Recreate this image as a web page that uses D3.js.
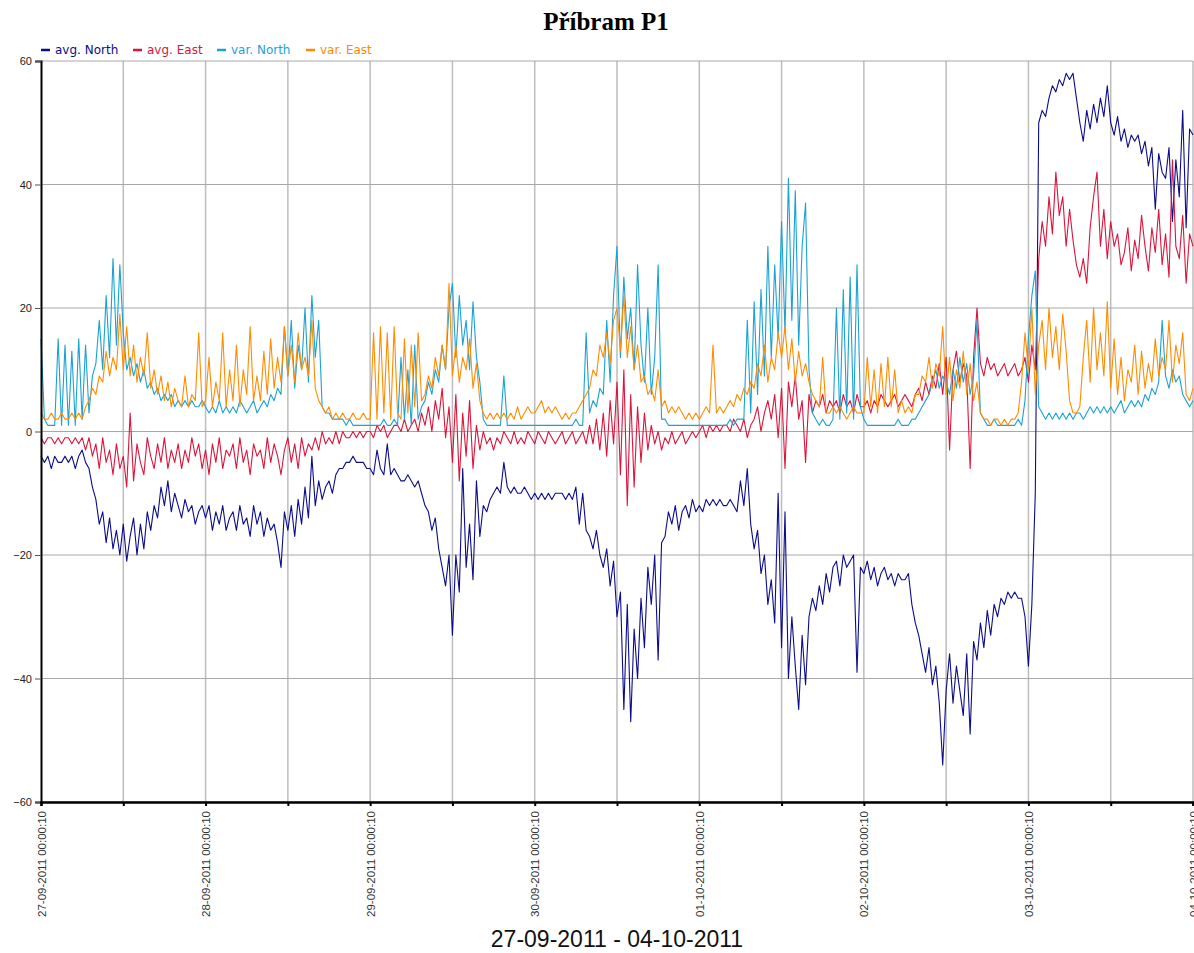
<!DOCTYPE html>
<html>
<head>
<meta charset="utf-8">
<script src="https://cdn.jsdelivr.net/npm/d3@7"></script>
<style>
  body { margin: 0; background: #fff; }
  svg { display: block; }
</style>
</head>
<body>
<div id="chart"></div>
<script>
// half-hourly readings from 27-09-2011 00:00:10 to 04-10-2011 00:00:10
// each row = 4 hours (8 readings), 6 rows per day, last value = end point
const avgNorth = [
  -4,-5,-4,-6,-4,-5,-5,-4,  -5,-4,-6,-4,-3,-5,-6,-9,  -11,-15,-13,-18,-14,-19,-16,-20,
  -15,-21,-17,-14,-20,-15,-19,-13,  -16,-12,-14,-9,-12,-8,-13,-10,  -12,-14,-11,-13,-12,-15,-13,-12,
  -14,-12,-16,-13,-15,-12,-16,-14,  -13,-16,-12,-15,-14,-17,-12,-15,  -13,-17,-14,-16,-15,-18,-22,-13,
  -16,-12,-17,-11,-15,-9,-14,-4,  -12,-8,-11,-9,-8,-10,-7,-6,  -6,-5,-5,-4,-5,-5,-5,-6,
  -6,-7,-3,-6,-7,-2,-7,-6,  -7,-8,-8,-7,-8,-9,-8,-10,  -12,-13,-16,-14,-19,-22,-25,-20,
  -33,-20,-26,-6,-22,-15,-24,-8,  -17,-12,-13,-11,-10,-9,-10,-5,  -9,-10,-9,-10,-10,-9,-10,-11,
  -10,-11,-10,-11,-10,-11,-10,-10,  -10,-11,-10,-11,-9,-15,-10,-16,  -17,-19,-16,-20,-22,-19,-25,-21,
  -30,-26,-45,-28,-47,-32,-40,-27,  -35,-22,-28,-20,-37,-18,-17,-13,  -15,-12,-16,-13,-12,-14,-11,-13,
  -12,-13,-11,-12,-11,-12,-11,-12,  -12,-11,-12,-13,-8,-12,-6,-15,  -19,-16,-23,-20,-28,-24,-31,-10,
  -35,-13,-40,-30,-38,-45,-33,-41,  -30,-27,-29,-25,-28,-23,-26,-22,  -21,-25,-20,-22,-21,-20,-39,-22,
  -23,-21,-24,-22,-25,-23,-22,-24,  -23,-25,-23,-24,-24,-23,-28,-31,  -33,-36,-39,-35,-41,-38,-44,-54,
  -42,-36,-44,-38,-42,-46,-36,-49,  -34,-37,-31,-35,-29,-33,-28,-30,  -27,-28,-26,-27,-26,-27,-27,-30,
  -38,-28,-10,50,52,51,54,56,  55,57,56,58,57,58,54,50,  47,52,49,53,50,54,51,56,
  50,48,51,47,49,46,48,47,  48,45,47,43,46,36,45,42,  41,46,34,44,38,52,33,49,
  48
];
const avgEast = [
  -1,-2,-1,-1,-2,-1,-2,-1,  -1,-2,-1,-2,-1,-3,-1,-4,  -2,-6,-1,-5,-3,-7,-2,-6,
  -4,-9,3,-8,-2,-5,-7,-1,  -4,-6,-2,-5,-1,-6,-3,-5,  -2,-6,-3,-5,-1,-4,-2,-6,
  -3,-7,-2,-5,-1,-6,-3,-4,  -2,-6,-1,-5,-3,-7,-2,-4,  -3,-6,-1,-5,-2,-4,-7,-3,
  -1,-5,-2,-6,-1,-4,-2,-3,  -1,-3,0,-2,-1,-2,0,-2,  0,-1,-1,0,-1,0,-1,0,
  0,-1,1,0,1,-1,0,1,  1,0,2,0,1,2,0,3,  1,4,0,5,2,7,-1,4,
  -5,6,-8,3,-4,5,-6,1,  -3,0,-2,-1,-3,-1,-2,0,  -1,-2,0,-2,-1,-2,0,-1,
  -2,0,-1,-2,0,-1,-2,-1,  0,-2,-1,0,-2,-1,0,-2,  1,-2,2,-3,3,-4,5,-2,
  8,-7,10,-12,6,-9,4,-5,  3,-3,1,-2,0,-3,-1,-2,  0,-2,-1,0,-2,-1,0,-1,
  0,1,-1,1,0,1,0,1,  1,0,2,1,0,2,-1,1,  2,4,0,3,5,2,6,-1,
  7,-6,8,4,9,2,5,-5,  6,3,5,4,6,3,5,4,  5,3,6,4,5,3,6,4,
  4,5,3,5,4,6,5,4,  5,6,4,5,6,5,4,6,  7,5,8,6,9,7,11,6,
  12,-3,10,13,8,11,9,-6,  12,20,11,9,12,10,11,9,  10,11,9,10,11,9,10,12,
  8,14,10,28,34,30,38,32,  42,35,38,30,36,31,27,25,  28,24,33,38,42,30,36,28,
  34,30,32,27,29,33,26,31,  28,35,30,26,33,29,36,27,  32,25,44,30,28,35,24,32,
  30
];
const varNorth = [
  15,2,1,1,1,15,1,14,  1,13,1,15,2,14,3,9,  11,18,10,22,12,28,14,27,
  16,10,12,9,11,8,10,7,  8,6,7,5,6,5,6,4,  5,4,5,4,5,4,4,5,
  4,3,4,3,5,3,4,3,  4,3,5,4,3,4,5,3,  4,5,4,6,5,7,6,17,
  9,18,7,14,10,20,8,22,  12,18,4,3,3,2,2,2,  2,1,2,1,1,1,1,1,
  1,1,1,1,2,1,1,2,  1,12,2,10,1,14,2,4,  5,8,6,10,8,14,10,20,
  24,12,22,14,18,10,21,12,  8,2,1,1,1,1,1,9,  1,1,1,1,1,1,1,1,
  1,1,1,1,1,1,1,1,  1,1,1,1,2,1,1,16,  3,5,4,7,6,18,8,22,
  30,12,25,15,20,10,27,14,  8,20,6,12,27,2,2,1,  1,1,1,1,1,1,1,1,
  1,1,1,1,1,1,1,1,  1,2,1,2,2,2,18,3,  21,6,23,9,30,12,27,15,
  34,16,41,18,39,14,30,37,  10,3,2,1,2,1,1,2,  20,2,23,3,25,2,27,4,
  2,1,1,1,1,1,1,1,  1,1,2,1,1,1,2,2,  3,4,5,6,8,10,7,9,
  8,6,10,7,12,8,11,6,  9,18,3,2,1,1,2,1,  1,1,1,1,1,2,1,5,
  15,22,26,4,3,2,3,2,  3,2,3,2,3,2,3,3,  2,3,4,3,4,3,4,3,
  4,3,4,5,3,4,5,4,  5,4,6,5,7,6,8,18,  9,7,10,8,9,6,5,4,
  5
];
const varEast = [
  3,2,2,3,2,2,3,2,  2,3,2,3,2,4,5,7,  6,9,8,13,9,12,10,19,
  10,17,9,14,8,12,9,16,  7,10,6,9,5,8,4,7,  5,4,9,4,6,5,16,4,
  5,12,4,8,5,16,4,10,  5,14,4,10,6,17,5,9,  5,13,6,15,7,12,8,17,
  9,14,8,16,10,12,9,18,  7,5,4,3,4,2,3,2,  3,2,2,3,2,2,3,2,
  2,16,2,17,3,16,2,17,  3,2,15,3,14,4,16,5,  6,9,7,12,9,14,10,24,
  9,14,8,12,10,15,7,11,  5,3,2,3,2,3,2,3,  2,3,2,4,2,3,4,3,
  3,4,5,3,4,3,4,3,  2,3,2,3,3,4,5,6,  7,10,9,14,12,16,11,18,
  20,13,22,12,17,10,14,8,  9,6,7,5,10,4,5,3,  4,3,4,3,2,3,2,3,
  2,3,4,3,14,3,4,3,  4,5,4,6,5,7,6,8,  7,11,9,14,8,12,10,16,
  12,17,10,15,8,13,9,11,  8,6,5,4,12,3,3,4,  3,4,3,2,3,4,3,3,
  3,12,4,10,3,11,4,12,  4,10,3,5,3,4,3,6,  6,9,8,12,7,11,9,17,
  6,12,5,10,7,13,6,11,  5,8,3,2,2,1,2,2,  1,2,1,2,2,3,8,16,
  10,20,6,14,18,10,20,12,  17,10,19,13,5,3,3,4,  12,18,8,20,10,16,9,21,
  7,15,6,12,5,10,8,14,  6,13,7,11,8,15,9,12,  10,18,8,14,11,16,6,5,
  7
];

const seriesNames = ["avg. North", "avg. East", "var. North", "var. East"];
const seriesColors = ["#0c0c8a", "#dc143c", "#1aa2d4", "#ff8c00"];
const yTicks = [60, 40, 20, 0, -20, -40, -60];

const width = 1194;
const height = 953;
const margin = {top: 61, right: 1, bottom: 151, left: 41};

const start = new Date(2011, 8, 27, 0, 0, 10);
const end = d3.timeDay.offset(start, 7);

const svg = d3.select("#chart").append("svg")
    .attr("width", width)
    .attr("height", height);

const x = d3.scaleTime()
    .domain([start, end])
    .range([margin.left, width - margin.right]);

const y = d3.scaleLinear()
    .domain([-60, 60])
    .range([height - margin.bottom, margin.top]);

const halfDays = d3.range(15).map(i => d3.timeHour.offset(start, i * 12));
const days = halfDays.filter((d, i) => i % 2 === 0);

// grid
svg.append("g")
    .selectAll("line")
    .data(halfDays.slice(1))
    .join("line")
        .attr("x1", d => x(d)).attr("x2", d => x(d))
        .attr("y1", y(60)).attr("y2", y(-60))
        .attr("stroke", "#bdbdbd")
        .attr("stroke-width", 1.5);

svg.append("g")
    .selectAll("line")
    .data(yTicks)
    .join("line")
        .attr("x1", x(start)).attr("x2", x(end))
        .attr("y1", d => y(d)).attr("y2", d => y(d))
        .attr("stroke", "#a8a8a8")
        .attr("stroke-width", 1);

// series, one reading every 30 minutes
const all = [avgNorth, avgEast, varNorth, varEast];
const line = d3.line()
    .x((d, i) => x(d3.timeMinute.offset(start, i * 30)))
    .y(d => y(d));

svg.append("g")
    .selectAll("path")
    .data(all)
    .join("path")
        .attr("d", line)
        .attr("fill", "none")
        .attr("stroke", (d, i) => seriesColors[i])
        .attr("stroke-width", 1.1)
        .attr("stroke-linejoin", "round");

// y axis
const yAxis = svg.append("g")
    .attr("transform", `translate(${margin.left},0)`)
    .call(d3.axisLeft(y).tickValues(yTicks).tickSize(6).tickPadding(3).tickFormat(d3.format("d")));
yAxis.select(".domain").attr("stroke", "#000").attr("stroke-width", 2);
yAxis.selectAll(".tick line").attr("stroke", "#555");
yAxis.selectAll("text")
    .attr("font-family", "Liberation Sans, Arial, sans-serif")
    .attr("font-size", 11)
    .attr("fill", "#222");

// x axis
const fmt = d3.timeFormat("%d-%m-%Y %H:%M:%S");
const xAxis = svg.append("g")
    .attr("transform", `translate(0,${y(-60)})`)
    .call(d3.axisBottom(x).tickValues(halfDays).tickSize(4).tickFormat(d => days.some(t => +t === +d) ? fmt(d) : ""));
xAxis.select(".domain").attr("stroke", "#000").attr("stroke-width", 2.5);
xAxis.selectAll(".tick line").attr("stroke", "#000").attr("stroke-width", 2);
xAxis.selectAll("text")
    .attr("font-family", "Liberation Sans, Arial, sans-serif")
    .attr("font-size", 11.5)
    .attr("fill", "#333")
    .attr("text-anchor", "end")
    .attr("transform", "rotate(-90)")
    .attr("x", -9)
    .attr("y", 0)
    .attr("dy", "0.35em");

// title
svg.append("text")
    .attr("x", 606)
    .attr("y", 30)
    .attr("text-anchor", "middle")
    .attr("font-family", "Liberation Serif, Times New Roman, serif")
    .attr("font-weight", "bold")
    .attr("font-size", 25)
    .text("Příbram P1");

svg.append("text")
    .attr("x", 617)
    .attr("y", 947)
    .attr("text-anchor", "middle")
    .attr("font-family", "Liberation Sans, Arial, sans-serif")
    .attr("font-size", 23)
    .attr("fill", "#111")
    .text(`${d3.timeFormat("%d-%m-%Y")(start)} - ${d3.timeFormat("%d-%m-%Y")(end)}`);

// legend
const legendX = [41, 133, 217, 306];
const legend = svg.append("g")
    .selectAll("g")
    .data(seriesNames)
    .join("g")
        .attr("transform", (d, i) => `translate(${legendX[i]},50)`);
legend.append("line")
    .attr("x1", 0).attr("x2", 9)
    .attr("stroke", (d, i) => seriesColors[i])
    .attr("stroke-width", 2.5);
legend.append("text")
    .attr("x", 14)
    .attr("dy", "0.35em")
    .attr("font-family", "DejaVu Sans, Verdana, sans-serif")
    .attr("font-size", 12)
    .attr("fill", (d, i) => seriesColors[i])
    .text(d => d);
</script>
</body>
</html>
